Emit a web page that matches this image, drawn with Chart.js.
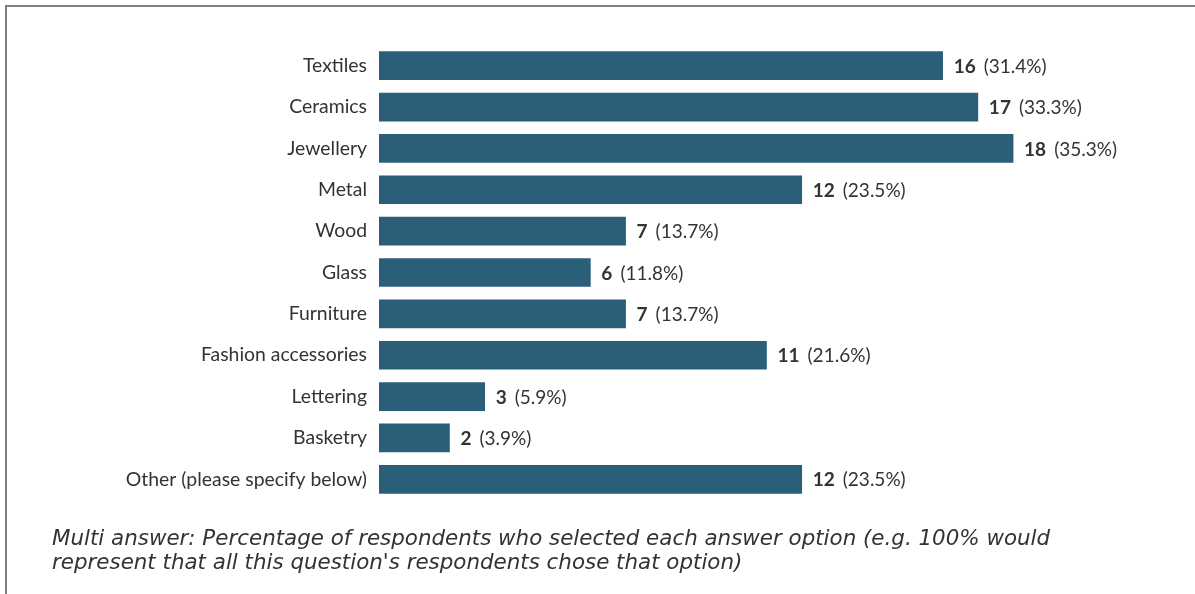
<!DOCTYPE html>
<html>
<head>
<meta charset="utf-8">
<script src="https://cdn.jsdelivr.net/npm/chart.js@4"></script>
<style>
  html, body { margin: 0; padding: 0; background: #fff; }
  #wrap { position: relative; width: 1195px; height: 594px; overflow: hidden; }
  #frame {
    position: absolute; left: 5px; top: 5px; right: -10px; bottom: -10px;
    border-left: 2px solid #7f7f7f; border-top: 2px solid #7f7f7f;
  }
  #mychart { position: absolute; left: 0; top: 0; }
  #note {
    position: absolute; left: 52px; top: 526px;
    font: italic 21.4px "DejaVu Sans", sans-serif; line-height: 24px;
    color: #333;
    white-space: nowrap;
  }
</style>
</head>
<body>
<div id="wrap">
  <div id="frame"></div>
  <canvas id="mychart" width="1195" height="594"></canvas>
  <div id="note">Multi answer: Percentage of respondents who selected each answer option (e.g. 100% would<br>represent that all this question's respondents chose that option)</div>
</div>
<script>
let categories = ['Textiles', 'Ceramics', 'Jewellery', 'Metal', 'Wood', 'Glass', 'Furniture',
  'Fashion accessories', 'Lettering', 'Basketry', 'Other (please specify below)'];
let counts = [16, 17, 18, 12, 7, 6, 7, 11, 3, 2, 12];
let percents = [31.4, 33.3, 35.3, 23.5, 13.7, 11.8, 13.7, 21.6, 5.9, 3.9, 23.5];

let barColor = '#2b5f79';
let textColor = '#333333';

// count in bold followed by the share in brackets, just right of each bar
let valueLabels = {
  id: 'valueLabels',
  afterDatasetsDraw(chart) {
    let ctx = chart.ctx;
    let meta = chart.getDatasetMeta(0);
    ctx.save();
    ctx.fillStyle = textColor;
    ctx.textBaseline = 'middle';
    ctx.textAlign = 'left';
    meta.data.forEach((bar, i) => {
      let x = bar.x + 11;
      let y = bar.y + 1;
      ctx.font = 'bold 19px Lato';
      let num = String(counts[i]);
      ctx.fillText(num, x, y);
      x += ctx.measureText(num).width + 8;
      ctx.font = '19px Lato';
      ctx.fillText('(' + percents[i].toFixed(1) + '%)', x, y);
    });
    ctx.restore();
  }
};

let mychart = document.getElementById('mychart').getContext('2d');
let obj = new Chart(mychart, {
  type: 'bar',
  data: {
    labels: categories,
    datasets: [{
      data: counts,
      backgroundColor: barColor,
      borderWidth: 0,
      barThickness: 28
    }]
  },
  options: {
    indexAxis: 'y',
    responsive: false,
    animation: false,
    layout: { padding: { top: 45, bottom: 94, left: 0, right: 41 } },
    plugins: {
      legend: { display: false },
      tooltip: { enabled: false }
    },
    scales: {
      x: {
        display: false,
        min: 0,
        max: 22
      },
      y: {
        afterFit(scale) { scale.width = 379; },
        grid: { display: false, drawTicks: false },
        border: { display: false },
        ticks: {
          color: textColor,
          padding: 12,
          font: { family: 'Lato', size: 19.4 }
        }
      }
    }
  },
  plugins: [valueLabels]
});
</script>
</body>
</html>
